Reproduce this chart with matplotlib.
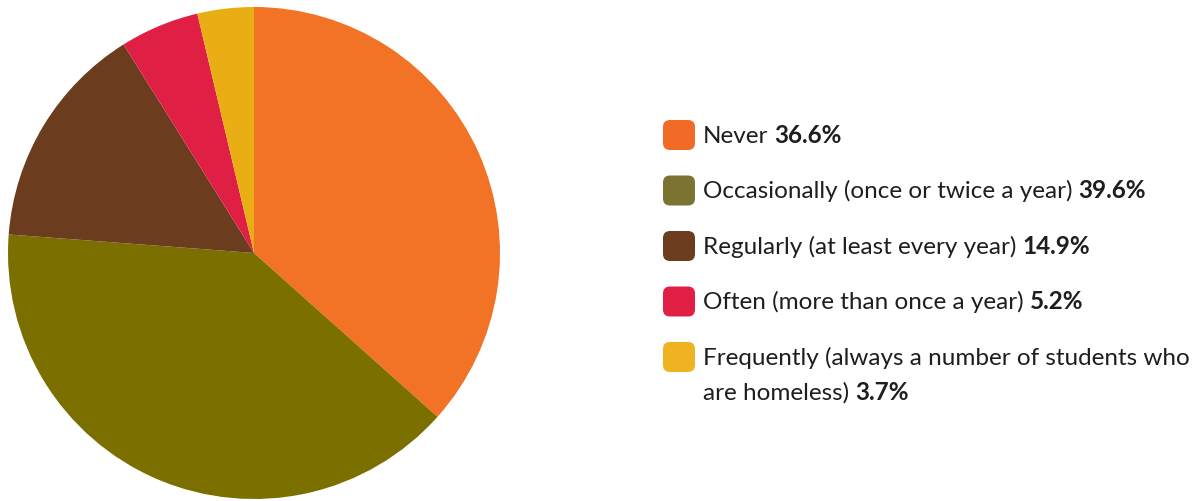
import matplotlib
matplotlib.use("Agg")
import matplotlib.pyplot as plt
from matplotlib.patches import FancyBboxPatch

# data
categories = [
    "Never",
    "Occasionally (once or twice a year)",
    "Regularly (at least every year)",
    "Often (more than once a year)",
    "Frequently (always a number of students who\nare homeless)",
]
shares = [36.6, 39.6, 14.9, 5.2, 3.7]
value_labels = ["36.6%", "39.6%", "14.9%", "5.2%", "3.7%"]
slice_colors = ["#F27226", "#7B6F00", "#6B3D1E", "#E01F45", "#EAAE15"]
marker_colors = ["#F26B26", "#7B7330", "#6B3D1E", "#E01F45", "#EFB322"]

W, H = 1200, 502
fig = plt.figure(figsize=(W / 100, H / 100), dpi=100)

# pie, drawn clockwise from 12 o'clock
ax = fig.add_axes([8 / W, 2 / H, 492 / W, 492 / H])
ax.pie(shares, colors=slice_colors, startangle=90, counterclock=False,
       radius=1.0, wedgeprops=dict(linewidth=0))
ax.set_xlim(-1, 1)
ax.set_ylim(-1, 1)
ax.set_aspect("equal")
ax.axis("off")

# legend drawn in pixel coordinates
lg = fig.add_axes([0, 0, 1, 1])
lg.set_xlim(0, W)
lg.set_ylim(H, 0)
lg.axis("off")

font = dict(family=["Lato", "DejaVu Sans"], fontsize=17.5, color="#1e1e1e")
row_gap = 55.5
line_gap = 35
text_x = 703
first_base = 143

fig.canvas.draw()
renderer = fig.canvas.get_renderer()
inv = lg.transData.inverted()

for i, (lab, val, col) in enumerate(zip(categories, value_labels, marker_colors)):
    base = first_base + i * row_gap
    cy = base - 7
    lg.add_patch(FancyBboxPatch((663, cy - 15), 32, 30,
                                boxstyle="round,pad=0,rounding_size=7",
                                facecolor=col, edgecolor="none"))
    lines = lab.split("\n")
    for j, line in enumerate(lines):
        t = lg.text(text_x, base + j * line_gap, line, va="baseline", ha="left",
                    weight="normal", **font)
    bb = t.get_window_extent(renderer)
    x_end = inv.transform((bb.x1, bb.y0))[0]
    lg.text(x_end + 6, base + (len(lines) - 1) * line_gap, val, va="baseline",
            ha="left", weight="bold", **font)

fig.savefig("out.png", dpi=100)
